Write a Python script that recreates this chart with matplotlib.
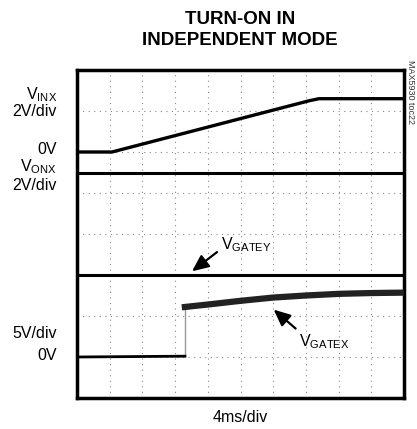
import numpy as np
import matplotlib.pyplot as plt

plt.rcParams['font.family'] = ['Liberation Sans', 'DejaVu Sans']
plt.rcParams['mathtext.fontset'] = 'custom'
plt.rcParams['mathtext.rm'] = 'Liberation Sans'

# traces, in scope divisions (x: 0..10, y: 0..8 from bottom)
vinx_t = [0.0, 1.07, 7.1, 7.4, 10.0]
vinx_v = [6.0, 6.0, 7.25, 7.3, 7.3]

vonx_t = [0.0, 10.0]
vonx_v = [5.5, 5.5]

vgatey_t = [0.0, 10.0]
vgatey_v = [3.0, 3.0]

vgatex_t = [0.0, 3.3, 3.3, 4.0, 5.0, 6.0, 7.0, 8.0, 9.0, 10.0]
vgatex_v = [1.0, 1.02, 2.22, 2.28, 2.37, 2.45, 2.5, 2.54, 2.56, 2.57]

fig = plt.figure(figsize=(4.17, 4.29), dpi=100)
ax = fig.add_axes([77/417, 1-398/429, 327/417, 328/429])
ax.set_xlim(0, 10)
ax.set_ylim(0, 8)

# grid
for gx in range(1, 10):
    ax.axvline(gx, color='#888888', lw=0.8, ls=(0, (1, 4)), zorder=1)
for gy in range(1, 8):
    ax.axhline(gy, color='#888888', lw=0.8, ls=(0, (1, 4)), zorder=1)

ax.plot(vinx_t, vinx_v, color='black', lw=2.4, zorder=3)
ax.plot(vonx_t, vonx_v, color='black', lw=2.2, zorder=3)
ax.plot(vgatey_t, vgatey_v, color='black', lw=2.2, zorder=3)
ax.plot(vgatex_t[:2], vgatex_v[:2], color='black', lw=2.0, zorder=3)
ax.plot(vgatex_t[1:3], vgatex_v[1:3], color='#999999', lw=1.0, zorder=2)
ax.plot(vgatex_t[2:], vgatex_v[2:], color='#222222', lw=4.5, zorder=3)

ax.set_xticks([])
ax.set_yticks([])
for s in ax.spines.values():
    s.set_linewidth(2.5)

# arrows
ax.annotate('', xy=(3.45, 3.05), xytext=(4.35, 3.6),
            arrowprops=dict(arrowstyle='-|>,head_length=1.0,head_width=0.45',
                            color='black', lw=1.6))
ax.text(4.4, 3.5, r'V$_{\mathrm{GATEY}}$', fontsize=11.5, ha='left', va='bottom')
ax.annotate('', xy=(5.95, 2.2), xytext=(6.75, 1.65),
            arrowprops=dict(arrowstyle='-|>,head_length=1.0,head_width=0.45',
                            color='black', lw=1.6))
ax.text(6.8, 1.6, r'V$_{\mathrm{GATEX}}$', fontsize=11.5, ha='left', va='top')

# left labels
lx = 57/417
fig.text(lx, 1-95/429, r'V$_{\mathrm{INX}}$', fontsize=11.5, ha='right', va='center')
fig.text(lx, 1-112/429, '2V/div', fontsize=11.5, ha='right', va='center')
fig.text(lx, 1-150/429, '0V', fontsize=11.5, ha='right', va='center')
fig.text(lx, 1-167/429, r'V$_{\mathrm{ONX}}$', fontsize=11.5, ha='right', va='center')
fig.text(lx, 1-186/429, '2V/div', fontsize=11.5, ha='right', va='center')
fig.text(lx, 1-333/429, '5V/div', fontsize=11.5, ha='right', va='center')
fig.text(lx, 1-356/429, '0V', fontsize=11.5, ha='right', va='center')

fig.text(240/417, 1-418/429, '4ms/div', fontsize=11.5, ha='center', va='center')
fig.text(240/417, 1-30/429, 'TURN-ON IN\nINDEPENDENT MODE', fontsize=13.5,
         fontweight='bold', ha='center', va='center', linespacing=1.25)
fig.text(411/417, 1-92/429, 'MAX5930 toc22', fontsize=6.5, rotation=270,
         ha='center', va='center', color='#333333')

fig.savefig('out.png', dpi=100)
